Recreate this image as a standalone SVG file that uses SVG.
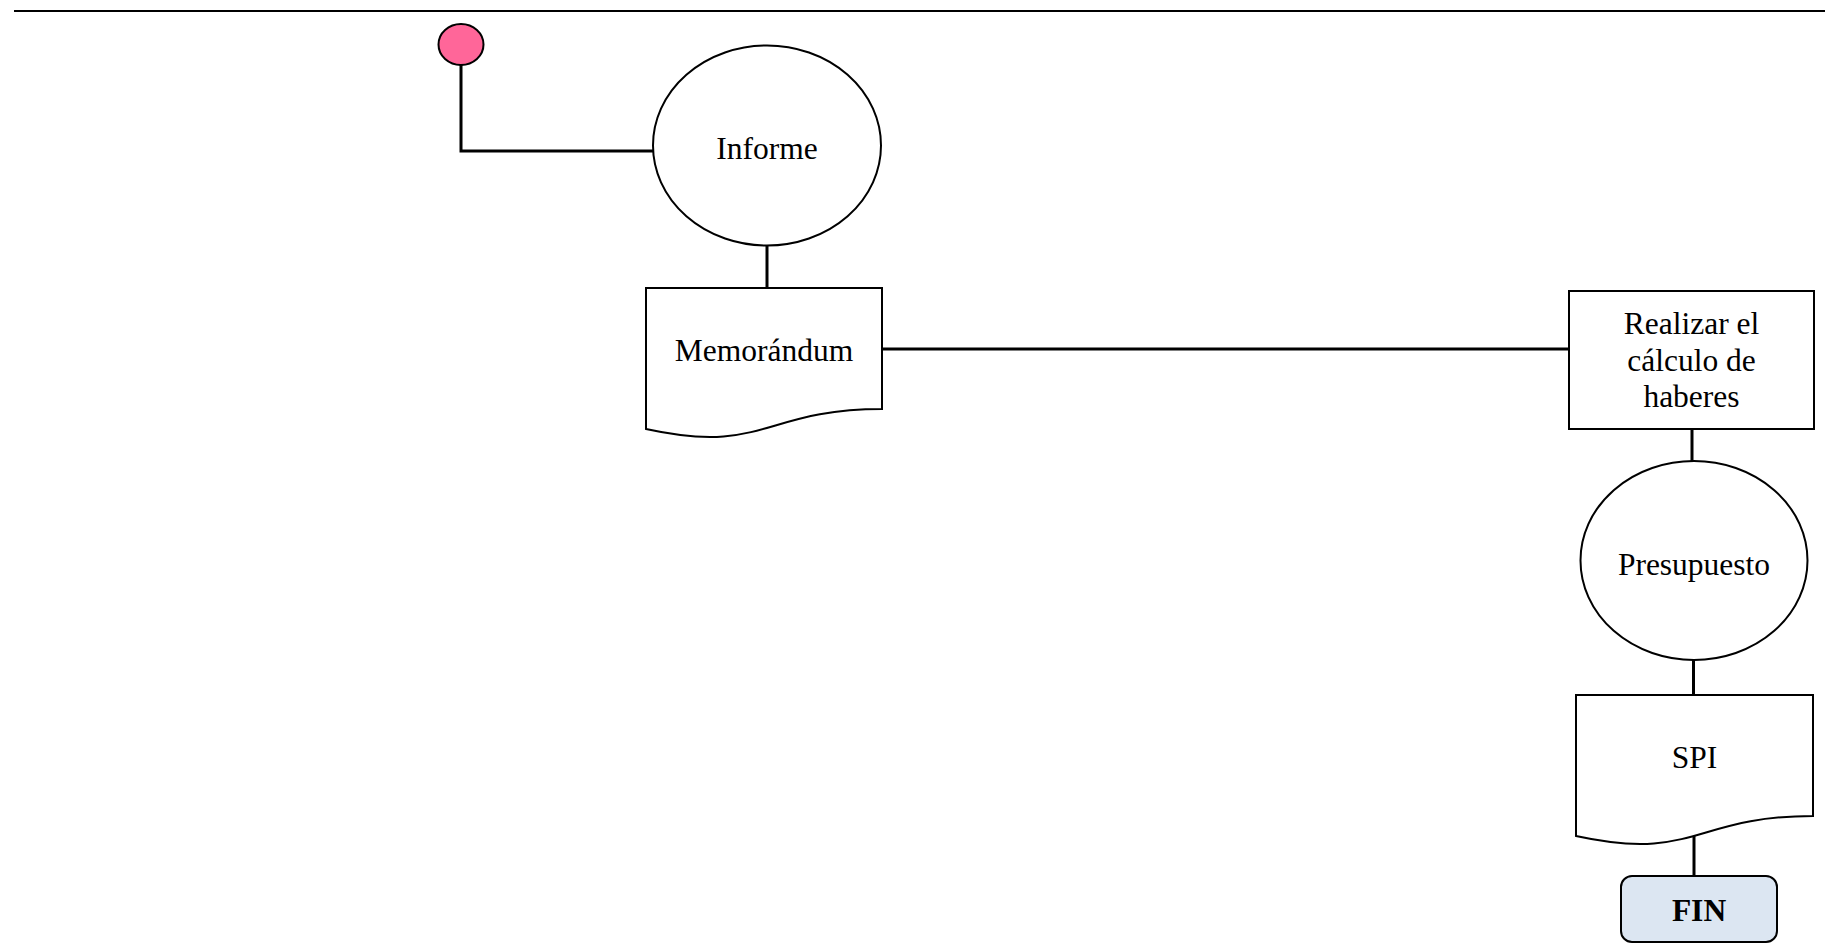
<svg xmlns="http://www.w3.org/2000/svg" width="1825" height="950" viewBox="0 0 1825 950">
  <style>
    .shape { fill: #ffffff; stroke: #000000; stroke-width: 2; }
    .conn { fill: none; stroke: #000000; stroke-width: 3; }
    .label { font-family: "Liberation Serif", "Times New Roman", serif; font-size: 31.5px; fill: #000000; text-anchor: middle; }
    .bold { font-weight: bold; }
  </style>
  <rect width="1825" height="950" fill="#ffffff"/>

  <!-- header rule -->
  <line x1="14" y1="11" x2="1825" y2="11" stroke="#000000" stroke-width="2"/>

  <!-- connectors -->
  <g id="connectors">
    <polyline class="conn" points="461,65 461,151 653,151"/>
    <line class="conn" x1="767" y1="245" x2="767" y2="288"/>
    <line class="conn" x1="882" y1="349" x2="1569" y2="349"/>
    <line class="conn" x1="1692" y1="429" x2="1692" y2="461"/>
    <line class="conn" x1="1693.5" y1="660" x2="1693.5" y2="695"/>
    <line class="conn" x1="1694" y1="836" x2="1694" y2="876"/>
  </g>

  <!-- start point -->
  <g id="start">
    <ellipse cx="461" cy="44.5" rx="22.5" ry="20.5" fill="#ff6699" stroke="#000000" stroke-width="2"/>
  </g>

  <!-- Informe -->
  <g id="informe">
    <ellipse class="shape" cx="767" cy="145.5" rx="114" ry="100"/>
    <text class="label" x="767" y="159">Informe</text>
  </g>

  <!-- Memorándum (document) -->
  <g id="memorandum">
    <path class="shape" d="M646,288 H882 V409 C764,409 764,455 646,429 Z"/>
    <text class="label" x="764" y="361">Memorándum</text>
  </g>

  <!-- Realizar el cálculo de haberes (process) -->
  <g id="calculo">
    <rect class="shape" x="1569" y="291" width="245" height="138"/>
    <text class="label" x="1691.5" y="334">Realizar el</text>
    <text class="label" x="1691.5" y="371">cálculo de</text>
    <text class="label" x="1691.5" y="407">haberes</text>
  </g>

  <!-- Presupuesto -->
  <g id="presupuesto">
    <ellipse class="shape" cx="1694" cy="560.5" rx="113.5" ry="99.5"/>
    <text class="label" x="1694" y="575">Presupuesto</text>
  </g>

  <!-- SPI (document) -->
  <g id="spi">
    <path class="shape" d="M1576,695 H1813 V816 C1694.5,816 1694.5,862 1576,836 Z"/>
    <text class="label" x="1694.5" y="768">SPI</text>
  </g>

  <!-- FIN (terminator) -->
  <g id="fin">
    <rect x="1621" y="876" width="156" height="66" rx="11" ry="11" fill="#dce6f2" stroke="#000000" stroke-width="2"/>
    <text class="label bold" x="1699" y="921">FIN</text>
  </g>
</svg>
